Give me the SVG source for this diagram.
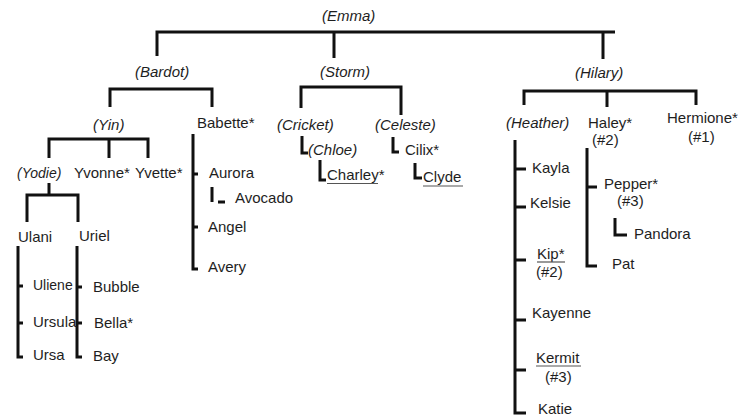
<svg xmlns="http://www.w3.org/2000/svg" width="738" height="419" viewBox="0 0 738 419">
<style>
text{font-family:"Liberation Sans",Arial,sans-serif;font-size:15px;fill:#1e1e1e}
.i{font-style:italic}
.s{font-size:14px}
.c path{fill:none;stroke:#111;stroke-width:3;stroke-linejoin:miter}
.u{stroke:#555;stroke-width:1.2;fill:none}
</style>
<rect width="738" height="419" fill="#fff"/>
<g class="c" id="connectors">
<path d="M157,56 V32 H615 M334,32 V58 M603,32 V59"/>
<path d="M110,107 V89 H212 V107"/>
<path d="M301,108 V87 H401 V115"/>
<path d="M524,105 V91 H696 V105 M607,91 V107"/>
<path d="M49,158 V139 H148 V158 M109,139 V158"/>
<path d="M49,183 V195 M27,222 V195 H78 V222"/>
<path d="M18,246 V357 H23 M18,286 H23 M18,323 H23"/>
<path d="M77,246 V357 H82 M77,287 H82 M77,323 H82"/>
<path d="M193,134 V269 H198 M193,174 H198 M193,227 H198"/>
<path d="M212,187 V202 M218,202 H225"/>
<path d="M302,136 V153 H308"/>
<path d="M320,160 V180 H326"/>
<path d="M393,137 V152 H399"/>
<path d="M415,163 V178 H422"/>
<path d="M515,140 V413 H526 M515,169 H526 M515,207 H526 M515,260 H526 M515,320 H526 M515,370 H526"/>
<path d="M587,148 V266 H597 M587,187 H597"/>
<path d="M615,218 V235 H627"/>
</g>
<g id="emma"><text class="i" x="322" y="21">(Emma)</text></g>
<g id="bardot"><text class="i" x="135" y="77">(Bardot)</text></g>
<g id="storm"><text class="i" x="320" y="77">(Storm)</text></g>
<g id="hilary"><text class="i" x="575" y="78">(Hilary)</text></g>
<g id="yin"><text class="i" x="93" y="130">(Yin)</text></g>
<g id="babette"><text x="197" y="128">Babette*</text></g>
<g id="yodie"><text class="i s" x="17" y="178">(Yodie)</text></g>
<g id="yvonne"><text x="74" y="178">Yvonne*</text></g>
<g id="yvette"><text x="135" y="178">Yvette*</text></g>
<g id="ulani"><text x="18" y="242">Ulani</text></g>
<g id="uriel"><text x="79" y="241">Uriel</text></g>
<g id="uliene"><text class="s" x="33" y="290">Uliene</text></g>
<g id="ursula"><text x="33" y="327">Ursula</text></g>
<g id="ursa"><text x="33" y="360">Ursa</text></g>
<g id="bubble"><text x="93" y="292">Bubble</text></g>
<g id="bella"><text x="94" y="328">Bella*</text></g>
<g id="bay"><text x="93" y="361">Bay</text></g>
<g id="aurora"><text x="209" y="178">Aurora</text></g>
<g id="avocado"><text x="235" y="203">Avocado</text></g>
<g id="angel"><text x="208" y="232">Angel</text></g>
<g id="avery"><text x="208" y="272">Avery</text></g>
<g id="cricket"><text class="i" x="277" y="130">(Cricket)</text></g>
<g id="chloe"><text class="i" x="308" y="155">(Chloe)</text></g>
<g id="charley"><text x="327" y="180">Charley*</text><path class="u" d="M327,183.5 H378"/></g>
<g id="celeste"><text class="i" x="375" y="130">(Celeste)</text></g>
<g id="cilix"><text x="405" y="155">Cilix*</text></g>
<g id="clyde"><text x="423" y="182">Clyde</text><path class="u" d="M423,186 H463"/></g>
<g id="heather"><text class="i" x="506" y="128">(Heather)</text></g>
<g id="haley"><text x="588" y="128">Haley*</text><text x="592" y="145">(#2)</text></g>
<g id="hermione"><text x="667" y="123">Hermione*</text><text x="688" y="142">(#1)</text></g>
<g id="kayla"><text x="532" y="173">Kayla</text></g>
<g id="kelsie"><text x="530" y="208">Kelsie</text></g>
<g id="kip"><text x="537" y="259">Kip*</text><path class="u" d="M537,262 H565"/><text x="536" y="277">(#2)</text></g>
<g id="kayenne"><text x="532" y="318">Kayenne</text></g>
<g id="kermit"><text x="536" y="363">Kermit</text><path class="u" d="M536,366 H581"/><text x="545" y="382">(#3)</text></g>
<g id="katie"><text x="538" y="414">Katie</text></g>
<g id="pepper"><text x="604" y="189">Pepper*</text><text x="617" y="206">(#3)</text></g>
<g id="pandora"><text x="634" y="239">Pandora</text></g>
<g id="pat"><text x="612" y="269">Pat</text></g>
</svg>
